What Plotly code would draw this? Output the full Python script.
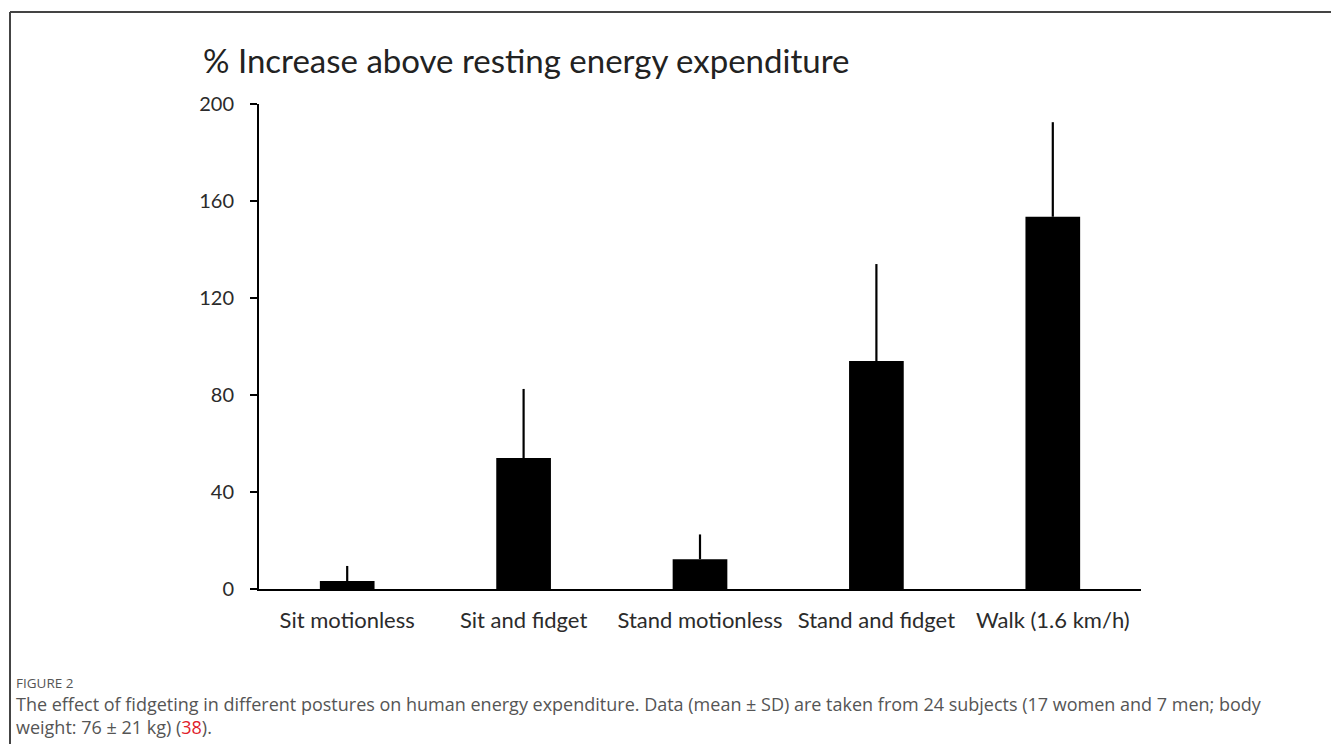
import plotly.graph_objects as go

categories = ["Sit motionless", "Sit and fidget", "Stand motionless", "Stand and fidget", "Walk (1.6 km/h)"]
mean_increase = [3.3, 54, 12.3, 94, 153.5]
sd_increase = [6.2, 28.5, 10.2, 40, 39]
y_ticks = [0, 40, 80, 120, 160, 200]

W, H = 1331, 744
L, R, T, B = 259, 190, 104, 155
pw, ph = W - L - R, H - T - B

def px(x):
    return (x - L) / pw

def py(y):
    return (H - B - y) / ph

fig = go.Figure()
fig.add_trace(go.Bar(
    x=categories, y=mean_increase, width=0.31,
    marker=dict(color="black", line=dict(width=0)),
    error_y=dict(type="data", array=sd_increase, arrayminus=[0]*len(sd_increase),
                 symmetric=False, color="black", thickness=2.2, width=0),
    showlegend=False,
))

font_chart = "Lato, 'Open Sans', sans-serif"
caption = ("The effect of fidgeting in different postures on human energy expenditure. Data (mean \u00b1 SD) "
           "are taken from 24 subjects (17 women and 7 men; body<br>"
           "weight: 76 \u00b1 21 kg) (<span style='color:#e0202a'>38</span>).")
fig.update_layout(
    width=W, height=H,
    margin=dict(l=L, r=R, t=T, b=B),
    paper_bgcolor="white", plot_bgcolor="white",
    xaxis=dict(showline=True, linecolor="black", linewidth=2, ticks="",
               tickfont=dict(family=font_chart, size=22, color="#2b2b2b"),
               ticklabelstandoff=11, showgrid=False, zeroline=False, fixedrange=True),
    yaxis=dict(range=[0, 200], tickvals=y_ticks, showline=True, linecolor="black", linewidth=2,
               ticks="outside", ticklen=7, tickwidth=2, tickcolor="black",
               tickfont=dict(family=font_chart, size=20, color="#2b2b2b"),
               ticklabelstandoff=12, showgrid=False, zeroline=False),
    shapes=[
        dict(type="line", xref="paper", yref="paper", x0=px(10), x1=px(W + 5), y0=py(12), y1=py(12),
             line=dict(color="#444", width=2)),
        dict(type="line", xref="paper", yref="paper", x0=px(10), x1=px(10), y0=py(12), y1=py(H + 5),
             line=dict(color="#444", width=2)),
    ],
    annotations=[
        dict(text="% Increase above resting energy expenditure", xref="paper", yref="paper",
             x=px(201), y=py(60), xanchor="left", yanchor="middle", showarrow=False,
             font=dict(family=font_chart, size=33, color="#222")),
        dict(text="FIGURE 2", xref="paper", yref="paper",
             x=px(14), y=py(683), xanchor="left", yanchor="middle", showarrow=False,
             font=dict(family="'Open Sans', sans-serif", size=13.5, color="#555")),
        dict(text=caption, xref="paper", yref="paper", align="left",
             x=px(14), y=py(715), xanchor="left", yanchor="middle", showarrow=False,
             font=dict(family="'Open Sans', sans-serif", size=18, color="#555")),
    ],
)

fig.write_html("out.html", config={"displayModeBar": False},
               post_script="document.body.style.margin='0';document.body.style.overflow='hidden';")
